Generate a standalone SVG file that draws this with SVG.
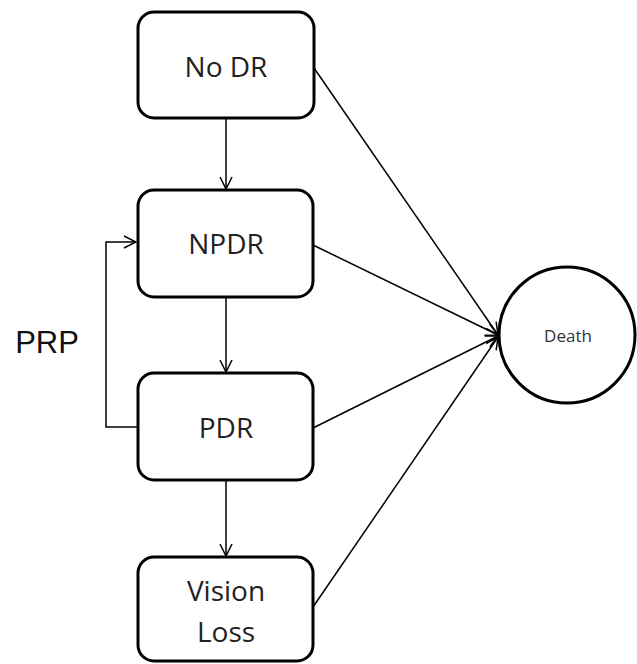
<svg xmlns="http://www.w3.org/2000/svg" width="637" height="664" viewBox="0 0 637 664">
<defs>
<style>
.box{fill:#fff;stroke:#000;stroke-width:3}
.lbl{font-family:"Open Sans","Noto Sans",sans-serif;font-size:28px;fill:#222;text-anchor:middle}
.con{fill:none;stroke:#000;stroke-width:1.5}
</style>
<marker id="ah" viewBox="0 0 14 14" refX="13" refY="7" markerWidth="14" markerHeight="14" markerUnits="userSpaceOnUse" orient="auto">
<path d="M1,1 L13,7 L1,13" fill="none" stroke="#000" stroke-width="1.5"/>
</marker>
</defs>
<rect width="637" height="664" fill="#fff"/>
<g id="connectors">
<line class="con" x1="226" y1="118" x2="226" y2="189" marker-end="url(#ah)"/>
<line class="con" x1="226" y1="297" x2="226" y2="372" marker-end="url(#ah)"/>
<line class="con" x1="226" y1="480" x2="226" y2="556" marker-end="url(#ah)"/>
<polyline class="con" points="137,427 106,427 106,242 136,242" marker-end="url(#ah)"/>
<line class="con" x1="314" y1="68" x2="498" y2="335" marker-end="url(#ah)"/>
<line class="con" x1="313" y1="245" x2="498" y2="335" marker-end="url(#ah)"/>
<line class="con" x1="313" y1="428" x2="498" y2="336" marker-end="url(#ah)"/>
<line class="con" x1="313" y1="607" x2="498" y2="337" marker-end="url(#ah)"/>
</g>
<g id="noDR">
<rect class="box" x="138" y="12" width="176" height="106" rx="16"/>
<text class="lbl" x="226" y="77">No DR</text>
</g>
<g id="NPDR">
<rect class="box" x="138" y="190" width="175" height="107" rx="16"/>
<text class="lbl" x="226" y="254">NPDR</text>
</g>
<g id="PDR">
<rect class="box" x="138" y="373" width="175" height="107" rx="16"/>
<text class="lbl" x="226" y="438">PDR</text>
</g>
<g id="visionLoss">
<rect class="box" x="138" y="557" width="175" height="104" rx="16"/>
<text class="lbl" x="226" y="601">Vision</text>
<text class="lbl" x="226" y="642">Loss</text>
</g>
<g id="death">
<circle class="box" cx="567" cy="335" r="68"/>
<text x="568" y="342" font-family="'Open Sans','Noto Sans',sans-serif" font-size="17" fill="#333" text-anchor="middle">Death</text>
</g>
<g id="prp">
<text x="47" y="353" font-family="'Liberation Sans',Arial,sans-serif" font-size="31" fill="#111" text-anchor="middle">PRP</text>
</g>
</svg>
